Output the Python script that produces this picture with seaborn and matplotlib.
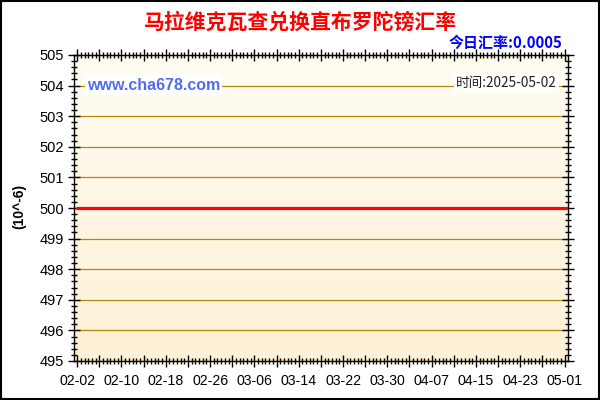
import numpy as np
import pandas as pd
import matplotlib
matplotlib.use("Agg")
import matplotlib.pyplot as plt
import matplotlib.dates as mdates
from matplotlib.colors import LinearSegmentedColormap
from matplotlib.patches import Rectangle
from matplotlib.ticker import FixedLocator, MultipleLocator
import seaborn as sns

# data (rate in units of 10^-6)
dates = pd.date_range("2025-02-02", "2025-05-02", freq="D")
rate_e6 = [500.0] * len(dates)
tick_days = ["02-02", "02-10", "02-18", "02-26", "03-06", "03-14",
             "03-22", "03-30", "04-07", "04-15", "04-23", "05-01"]
title = "马拉维克瓦查兑换直布罗陀镑汇率"
today_rate = "今日汇率:0.0005"
stamp = "时间:2025-05-02"

sns.set_theme(style="ticks")
plt.rcParams["font.family"] = ["Liberation Sans", "Noto Sans CJK SC", "DejaVu Sans"]
cjk = ["Noto Sans CJK SC", "DejaVu Sans"]

df = pd.DataFrame({"date": dates, "rate": rate_e6})

fig = plt.figure(figsize=(6, 4), dpi=100)
fig.patch.set_facecolor("white")
ax = fig.add_axes([0.1235, 0.0975, 0.8225, 0.765])

# gradient background of the plot area
grad = LinearSegmentedColormap.from_list("bg", ["#fffdf2", "#fdf0d6"])
ax.imshow(np.linspace(0, 1, 256).reshape(-1, 1), cmap=grad, aspect="auto",
          extent=[0, 1, 0, 1], transform=ax.transAxes, zorder=0)

ax.grid(axis="y", color="#b8860b", lw=0.9, zorder=1)
ax.grid(axis="x", visible=False)
sns.lineplot(data=df, x="date", y="rate", color="#ff0000", lw=2.3, ax=ax, zorder=3)

start = mdates.date2num(pd.Timestamp("2025-02-02"))
ax.set_xlim(start - 0.55, start + 88.55)
ax.set_ylim(495, 505)

major = start + np.arange(0, 89, 4)
ax.xaxis.set_major_locator(FixedLocator(major))
labels = []
for i in range(len(major)):
    labels.append(tick_days[i // 2] if i % 2 == 0 else "")
ax.set_xticklabels(labels)
ax.xaxis.set_minor_locator(FixedLocator(start + np.arange(0, 88.01, 4 / 6)))
ax.yaxis.set_major_locator(MultipleLocator(1))
ax.yaxis.set_minor_locator(MultipleLocator(0.2))

ax.tick_params(which="major", direction="inout", length=8.5, width=1, color="black",
               top=True, right=True, labelsize=10.5, labelcolor="black")
ax.tick_params(which="minor", direction="inout", length=4.3, width=1, color="black",
               top=True, right=True)
ax.tick_params(axis="x", which="major", pad=5, labelsize=10.2)
ax.tick_params(axis="y", which="major", pad=3)
for s in ax.spines.values():
    s.set_visible(True)
    s.set_color("black")
    s.set_linewidth(1)
ax.set_xlabel("")
ax.set_ylabel("")

fig.text(0.5, 0.945, title, ha="center", va="center", color="#ff0000",
         fontsize=15, fontweight="bold", family=cjk)
fig.text(0.938, 0.892, today_rate, ha="right", va="center", color="#0000ff",
         fontsize=10.8, fontweight="bold", family=cjk)
fig.text(0.1445, 0.7875, "www.cha678.com", ha="left", va="center", color="#4d6ef2",
         fontsize=11.5, fontweight="bold",
         bbox=dict(facecolor="white", edgecolor="none", pad=1.5))
fig.text(0.928, 0.7925, stamp, ha="right", va="center", color="#222222",
         fontsize=9.8, family=cjk,
         bbox=dict(facecolor="white", edgecolor="none", pad=1.5))
fig.text(0.032, 0.485, "(10^-6)", rotation=90, ha="center", va="center",
         fontsize=10, fontweight="bold", color="black")

fig.patches.append(Rectangle((0.001, 0.002), 0.997, 0.996, transform=fig.transFigure,
                             fill=False, edgecolor="black", lw=1.5))

fig.savefig("out.png", dpi=100)
